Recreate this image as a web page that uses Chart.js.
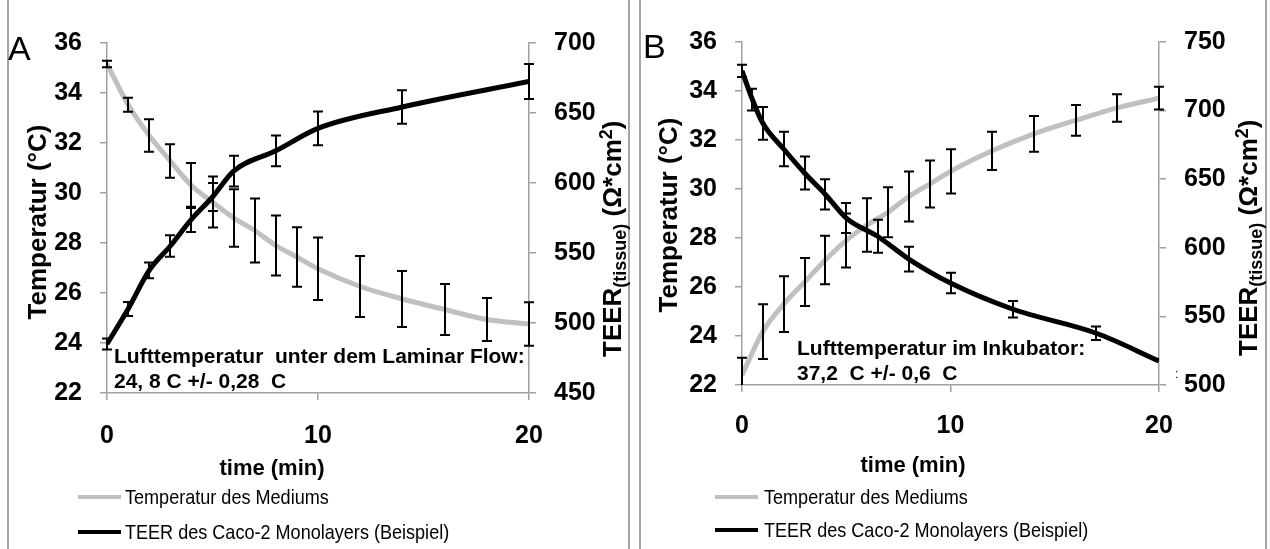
<!DOCTYPE html>
<html><head><meta charset="utf-8">
<script src="https://cdn.jsdelivr.net/npm/chart.js@4"></script>
<style>
html,body{margin:0;padding:0;background:#fff;width:1270px;height:549px;overflow:hidden;font-family:"Liberation Sans",Arial,sans-serif;}
.cv{position:absolute;top:0;width:635px;height:549px;}
.frame{position:absolute;border:2px solid #a6a6a6;box-sizing:border-box;}
.leg{position:absolute;font-size:21px;line-height:22px;white-space:nowrap;transform-origin:left center;transform:scaleX(0.86);}
.sw{position:absolute;height:4px;}
</style></head><body>
<div class="frame" style="left:7px;top:-10px;width:623px;height:580px"></div>
<div class="frame" style="left:639px;top:-10px;width:628px;height:580px"></div>
<div class="cv" style="left:0"><canvas id="cA"></canvas></div>
<div class="cv" style="left:635px"><canvas id="cB"></canvas></div>

<div class="sw" style="left:78px;top:495px;width:43px;background:#c0c0c0"></div>
<div class="leg" style="left:125px;top:486px">Temperatur des Mediums</div>
<div class="sw" style="left:78px;top:530px;width:43px;background:#000"></div>
<div class="leg" style="left:125px;top:521px">TEER des Caco-2 Monolayers (Beispiel)</div>

<div class="sw" style="left:715px;top:495px;width:43px;background:#c0c0c0"></div>
<div class="leg" style="left:764px;top:486px">Temperatur des Mediums</div>
<div class="sw" style="left:715px;top:528px;width:43px;background:#000"></div>
<div class="leg" style="left:764px;top:519px">TEER des Caco-2 Monolayers (Beispiel)</div>

<script>
const FONT = "'Liberation Sans', Arial, sans-serif";
Chart.defaults.font.family = FONT;

// ---- Panel A data ----
const timeTempA = [0,1,2,3,4,5,6,7,8,9,10,12,14,16,18,20];
const tempA     = [35.16,33.53,32.3,31.28,30.3,29.64,29.0,28.5,27.9,27.44,26.97,26.26,25.76,25.34,24.94,24.76];
const tempErrA  = [0.13,0.28,0.65,0.67,0.9,1.02,1.15,1.28,1.2,1.19,1.25,1.22,1.12,1.02,0.86,0.87];
const timeTeerA = [0,1,2,3,4,5,6,8,10,14,20];
const teerA     = [485,510,537.6,555,574,590,608.5,623,639,654.3,672.5];
const teerErrA  = [4,5,5.7,7.7,9,10,11,11,12,12,12.5];

// ---- Panel B data ----
const timeTempB = [0,1,2,3,4,5,6,7,8,9,10,12,14,16,18,20];
const tempB     = [22.41,24.18,25.3,26.2,27.1,27.9,28.53,29.05,29.69,30.2,30.72,31.56,32.25,32.8,33.31,33.71];
const tempErrB  = [0.7,1.12,1.14,0.98,0.99,1.1,1.09,1.02,1.02,0.96,0.9,0.78,0.73,0.63,0.56,0.46];
const timeTeerB = [0,0.5,1,2,3,4,5,6.5,8,10,13,17,20];
const teerB     = [729,708,690.7,672,654.5,638.9,621.7,608.4,591.8,574.3,555.2,537.7,517.5];
const teerErrB  = [4.5,8,12,12.5,12,11,11,12,9,7.5,6,4.9,0];

// ---- axis ticks ----
const xTicks = [0,10,20];
const tempTicksMin = 22, tempTicksMax = 36, tempStep = 2;
const teerA_min = 450, teerA_max = 700, teerB_min = 500, teerB_max = 750, teerStep = 50;

const labelsA = {letter:'A', note1:'Lufttemperatur  unter dem Laminar Flow:', note2:'24, 8 C +/- 0,28  C'};
const labelsB = {letter:'B', note1:'Lufttemperatur im Inkubator:', note2:'37,2  C +/- 0,6  C'};

function xy(xs, ys){ return xs.map((x,i)=>({x:x, y:ys[i]})); }

const errorBars = {
  id:'errorBars',
  afterDatasetsDraw(chart){
    const ctx = chart.ctx, ca = chart.chartArea;
    ctx.save();
    ctx.beginPath(); ctx.rect(0,0,chart.width,ca.bottom); ctx.clip();
    ctx.strokeStyle = '#000'; ctx.lineWidth = 2;
    chart.data.datasets.forEach(ds=>{
      if(!ds.errors) return;
      const ys = chart.scales[ds.yAxisID], xs = chart.scales.x;
      ds.data.forEach((p,i)=>{
        const e = ds.errors[i]; if(!e) return;
        const px = Math.round(xs.getPixelForValue(p.x));
        const y1 = ys.getPixelForValue(p.y+e), y2 = ys.getPixelForValue(p.y-e);
        ctx.beginPath();
        ctx.moveTo(px,y1); ctx.lineTo(px,y2);
        ctx.moveTo(px-5,y1); ctx.lineTo(px+5,y1);
        ctx.moveTo(px-5,y2); ctx.lineTo(px+5,y2);
        ctx.stroke();
      });
    });
    ctx.restore();
  }
};

const texts = {
  id:'texts',
  afterDraw(chart, args, o){
    const ctx = chart.ctx;
    ctx.save(); ctx.fillStyle = '#000'; ctx.textBaseline = 'alphabetic';
    ctx.textAlign = 'left';
    ctx.font = '34px ' + FONT;
    ctx.fillText(o.letter, o.letterX, o.letterY);
    ctx.font = 'bold 21px ' + FONT;
    ctx.fillText(o.note1, o.noteX, o.note1Y);
    ctx.fillText(o.note2, o.noteX, o.note2Y);
    if (o.stray) { ctx.font = '12px ' + FONT; ctx.fillText(':', o.stray[0], o.stray[1]); }
    ctx.font = 'bold 22px ' + FONT; ctx.textAlign = 'center';
    ctx.fillText('time (min)', o.xtX, o.xtY);
    ctx.font = 'bold 26px ' + FONT;
    ctx.save(); ctx.translate(o.ltX, o.ltY); ctx.rotate(-Math.PI/2);
    ctx.fillText('Temperatur (°C)', 0, 0); ctx.restore();
    ctx.save(); ctx.translate(o.rtX, o.rtY); ctx.rotate(-Math.PI/2); ctx.textAlign = 'left';
    const parts = [['TEER','bold 26px',0],['(tissue)','bold 18px',5],[' (Ω*cm','bold 26px',0],['2','bold 18px',-9],[')','bold 26px',0]];
    let x = 0;
    for (const [s,f,dy] of parts){ ctx.font = f + ' ' + FONT; ctx.fillText(s, x, dy); x += ctx.measureText(s).width; }
    ctx.restore();
    ctx.restore();
  }
};

function makeChart(id, d){
  const axisCol = '#a0a0a0';
  const tickFont = {size:25, weight:'bold', family:FONT};
  return new Chart(document.getElementById(id), {
    type:'line',
    data:{ datasets:[
      {label:'TEER des Caco-2 Monolayers (Beispiel)', data:xy(d.tt, d.teer), errors:d.teerErr, yAxisID:'y2',
       borderColor:'#000', borderWidth:5, pointRadius:0, cubicInterpolationMode:'monotone', fill:false},
      {label:'Temperatur des Mediums', data:xy(d.tx, d.temp), errors:d.tempErr, yAxisID:'y',
       borderColor:'#c0c0c0', borderWidth:5, pointRadius:0, cubicInterpolationMode:'monotone', fill:false}
    ]},
    options:{
      responsive:false, animation:false, devicePixelRatio:1,
      layout:{padding:{left:0,right:0,top:d.top,bottom:0}},
      plugins:{legend:{display:false}, tooltip:{enabled:false}, texts:d.txt},
      scales:{
        x:{type:'linear', min:0, max:20, afterBuildTicks:s=>{s.ticks = xTicks.map(v=>({value:v}));},
           grid:{drawOnChartArea:false, tickLength:7, color:axisCol, lineWidth:1.5},
           border:{color:axisCol, width:1.5},
           ticks:{font:tickFont, color:'#000', padding:d.xpad, maxRotation:0},
           afterFit:s=>{s.height = d.xh;}},
        y:{type:'linear', position:'left', min:tempTicksMin, max:tempTicksMax,
           ticks:{stepSize:tempStep, font:tickFont, color:'#000', padding:18},
           grid:{drawOnChartArea:false, tickLength:7, color:axisCol, lineWidth:1.5},
           border:{color:axisCol, width:1.5},
           afterFit:s=>{s.width = 107;}},
        y2:{type:'linear', position:'right', min:d.rmin, max:d.rmax,
           ticks:{stepSize:teerStep, font:tickFont, color:'#000', padding:18},
           grid:{drawOnChartArea:false, tickLength:7, color:axisCol, lineWidth:1.5},
           border:{color:axisCol, width:1.5},
           afterFit:s=>{s.width = d.rw;}}
      }
    },
    plugins:[errorBars, texts]
  });
}

function sizeCanvas(id){ const c=document.getElementById(id); c.width=635; c.height=549; c.style.width='635px'; c.style.height='549px'; }
sizeCanvas('cA'); sizeCanvas('cB');

makeChart('cA', {tx:timeTempA, temp:tempA, tempErr:tempErrA, tt:timeTeerA, teer:teerA, teerErr:teerErrA,
  rmin:teerA_min, rmax:teerA_max, top:43, xh:156, rw:106, xpad:21,
  txt:Object.assign({letterX:8, letterY:60, noteX:114, note1Y:363, note2Y:388, xtX:272, xtY:475, ltX:46, ltY:222, rtX:621, rtY:357}, labelsA)});

makeChart('cB', {tx:timeTempB, temp:tempB, tempErr:tempErrB, tt:timeTeerB, teer:teerB, teerErr:teerErrB,
  rmin:teerB_min, rmax:teerB_max, top:42, xh:164, rw:111, xpad:19,
  txt:Object.assign({letterX:8, letterY:58, noteX:162, note1Y:355, note2Y:380, xtX:278, xtY:472, ltX:42, ltY:215, rtX:622, rtY:356, stray:[540,378]}, labelsB)});
</script>
</body></html>
